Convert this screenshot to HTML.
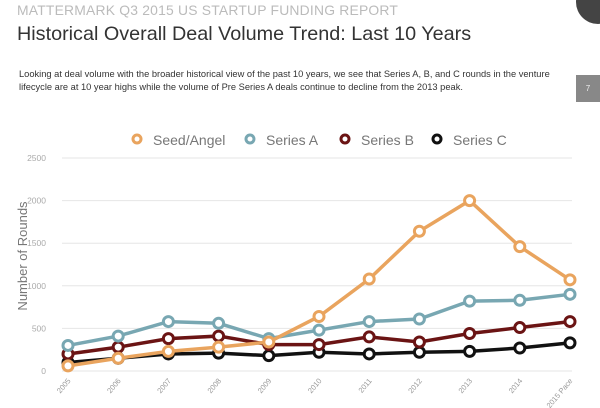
<!DOCTYPE html>
<html><head><meta charset="utf-8"><style>
body{margin:0;width:600px;height:408px;background:#fff;overflow:hidden;font-family:"Liberation Sans",sans-serif;position:relative}
.t1{position:absolute;left:17px;top:2px;font-size:13.9px;color:#bbb;letter-spacing:0.2px}
.t2{position:absolute;left:17px;top:23px;font-size:19.8px;color:#333;font-weight:300}
.p{position:absolute;left:19px;top:68px;font-size:9.3px;color:#333;line-height:13px;width:560px}
</style></head><body>
<div class="t1">MATTERMARK Q3 2015 US STARTUP FUNDING REPORT</div>
<div class="t2">Historical Overall Deal Volume Trend: Last 10 Years</div>
<div class="p">Looking at deal volume with the broader historical view of the past 10 years, we see that Series A, B, and C rounds in the venture lifecycle are at 10 year highs while the volume of Pre Series A deals continue to decline from the 2013 peak.</div>
<div style="position:absolute;left:576px;top:75px;width:24px;height:27px;background:#888;color:#eee;font-size:8px;text-align:center;line-height:27px">7</div>
<div style="position:absolute;left:576px;top:-20px;width:44px;height:44px;border-radius:50%;background:#444"></div>
<svg id="c" width="600" height="408" style="position:absolute;left:0;top:0"></svg>
<script>
const years=["2005","2006","2007","2008","2009","2010","2011","2012","2013","2014","2015 Pace"];
const seedAngel=[60,150,230,280,340,640,1080,1640,2000,1460,1070];
const seriesA=[300,410,580,560,380,480,580,610,820,830,900];
const seriesB=[200,280,380,410,310,310,400,340,440,510,580];
const seriesC=[100,150,200,210,180,220,200,220,230,270,330];
const yTicks=[0,500,1000,1500,2000,2500];
const seriesNames=["Seed/Angel","Series A","Series B","Series C"];
const colors=["#e9a45e","#78a7b2","#6b1414","#111"];
const NS="http://www.w3.org/2000/svg",svg=document.getElementById('c');
const x=i=>68+i*(570-68)/(years.length-1);
const y=v=>371-v*(371-158)/2500;
function mk(t,a,p){const e=document.createElementNS(NS,t);for(const k in a)e.setAttribute(k,a[k]);(p||svg).appendChild(e);return e;}
yTicks.forEach(v=>{
 const l=mk('line',{x1:62,x2:572,y1:y(v),y2:y(v),stroke:'#e6e6e6','stroke-width':1});
 
 
 const t=mk('text',{x:46,y:y(v)+3,'text-anchor':'end','font-size':8.5,fill:'#aaa','font-family':'Liberation Sans'});
 t.textContent=v;
 
 
});
years.forEach((yr,i)=>{
 const t=mk('text',{x:x(i)+3,y:381,'text-anchor':'end','font-size':7.5,fill:'#999','font-family':'Liberation Sans',transform:`rotate(-50 ${x(i)+3} 381)`});
 t.textContent=yr;
 
 
});
const yt=mk('text',{x:27,y:256,'text-anchor':'middle','font-size':13,fill:'#777','font-family':'Liberation Sans',transform:'rotate(-90 27 256)'});
yt.textContent="Number of Rounds";


const data=[seedAngel,seriesA,seriesB,seriesC];
[3,2,1,0].forEach(s=>{
 const g=mk('g',{});
 
 
 mk('polyline',{points:data[s].map((v,i)=>x(i)+','+y(v)).join(' '),fill:'none',stroke:colors[s],'stroke-width':3.5},g);
 data[s].forEach((v,i)=>{
  const c=mk('circle',{cx:x(i),cy:y(v),r:5,fill:'#fff',stroke:colors[s],'stroke-width':3},g);
  
  
 });
});
const lx=[137,250,345,437];
seriesNames.forEach((n,i)=>{
 const g=mk('g',{});
 
 
 mk('circle',{cx:lx[i],cy:139,r:4,fill:'#fff',stroke:colors[i],'stroke-width':3},g);
 const t=mk('text',{x:lx[i]+16,y:145,'font-size':14,fill:'#777','font-family':'Liberation Sans'},g);
 t.textContent=n;
});
</script>
</body></html>
